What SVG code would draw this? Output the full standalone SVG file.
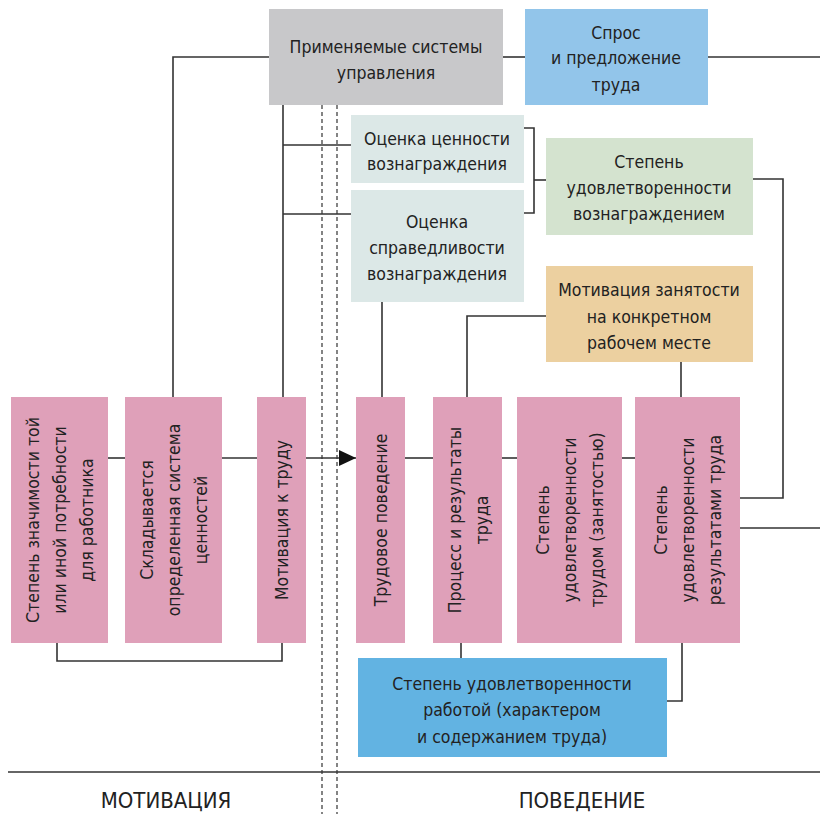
<svg xmlns="http://www.w3.org/2000/svg" width="820" height="814" viewBox="0 0 820 814">
<style>
text{font-family:"DejaVu Sans Condensed","Liberation Sans",sans-serif;font-size:17.5px;fill:#222;text-anchor:middle}
.ln{fill:none;stroke:#333;stroke-width:1.6}
.dash{fill:none;stroke:#333;stroke-width:1.2;stroke-dasharray:4 3}
.pink{fill:#dfa0b9}
.cap{font-size:22px;fill:#222}
</style>
<defs>
<marker id="arr" markerWidth="17" markerHeight="16" refX="17" refY="8" orient="auto" markerUnits="userSpaceOnUse">
<path d="M0,0 L17,8 L0,16 z" fill="#111"/>
</marker>
</defs>
<rect width="820" height="814" fill="#fff"/>
<g id="connectors">
<line class="dash" x1="322" y1="105" x2="322" y2="814"/>
<line class="dash" x1="337" y1="105" x2="337" y2="814"/>
<polyline class="ln" points="269,57 173,57 173,397"/>
<line class="ln" x1="503" y1="57" x2="525" y2="57"/>
<line class="ln" x1="708" y1="57" x2="820" y2="57"/>
<line class="ln" x1="283" y1="105" x2="283" y2="397"/>
<line class="ln" x1="283" y1="145" x2="351" y2="145"/>
<line class="ln" x1="283" y1="214" x2="351" y2="214"/>
<polyline class="ln" points="524,128 534,128 534,213 524,213"/>
<line class="ln" x1="534" y1="180" x2="546" y2="180"/>
<polyline class="ln" points="753,179 783,179 783,498 740,498"/>
<polyline class="ln" points="546,316 467,316 467,397"/>
<line class="ln" x1="681" y1="362" x2="681" y2="397"/>
<line class="ln" x1="382" y1="302" x2="382" y2="397"/>
<line class="ln" x1="108" y1="458" x2="125" y2="458"/>
<line class="ln" x1="222" y1="458" x2="257" y2="458"/>
<line class="ln" x1="306" y1="458" x2="356" y2="458" marker-end="url(#arr)"/>
<line class="ln" x1="405" y1="458" x2="433" y2="458"/>
<line class="ln" x1="502" y1="458" x2="517" y2="458"/>
<line class="ln" x1="622" y1="458" x2="635" y2="458"/>
<line class="ln" x1="740" y1="528" x2="820" y2="528"/>
<polyline class="ln" points="57,643 57,661 282,661 282,643"/>
<line class="ln" x1="461" y1="643" x2="461" y2="658"/>
<polyline class="ln" points="682,643 682,701 667,701"/>
<line class="ln" x1="8" y1="772" x2="820" y2="772"/>
</g>
<g id="n-gray"><rect x="269" y="9" width="234" height="96" fill="#c8c8ca"/>
<text x="386" y="53">Применяемые системы</text><text x="386" y="79">управления</text></g>
<g id="n-spros"><rect x="525" y="9" width="183" height="96" fill="#92c5ea"/>
<text x="616" y="39">Спрос</text><text x="616" y="64">и предложение</text><text x="616" y="91">труда</text></g>
<g id="n-ocenka1"><rect x="351" y="115" width="173" height="68" fill="#dce8e7"/>
<text x="437" y="145">Оценка ценности</text><text x="437" y="170">вознаграждения</text></g>
<g id="n-ocenka2"><rect x="351" y="190" width="173" height="112" fill="#dce8e7"/>
<text x="437" y="228">Оценка</text><text x="437" y="254">справедливости</text><text x="437" y="280">вознаграждения</text></g>
<g id="n-green"><rect x="546" y="138" width="207" height="97" fill="#d4e3cf"/>
<text x="649" y="168">Степень</text><text x="649" y="194">удовлетворенности</text><text x="649" y="220">вознаграждением</text></g>
<g id="n-orange"><rect x="546" y="266" width="207" height="96" fill="#ecd0a0"/>
<text x="649" y="296">Мотивация занятости</text><text x="649" y="323">на конкретном</text><text x="649" y="349">рабочем месте</text></g>
<g id="n-p1"><rect class="pink" x="11" y="397" width="97" height="246"/>
<g transform="translate(59.5,520) rotate(-90)"><text y="-21">Степень значимости той</text><text y="6">или иной потребности</text><text y="33">для работника</text></g></g>
<g id="n-p2"><rect class="pink" x="125" y="397" width="97" height="246"/>
<g transform="translate(173.5,520) rotate(-90)"><text y="-21">Складывается</text><text y="6">определенная система</text><text y="33">ценностей</text></g></g>
<g id="n-p3"><rect class="pink" x="257" y="397" width="49" height="246"/>
<g transform="translate(281.5,520) rotate(-90)"><text y="6">Мотивация к труду</text></g></g>
<g id="n-p4"><rect class="pink" x="356" y="397" width="49" height="246"/>
<g transform="translate(380.5,520) rotate(-90)"><text y="6">Трудовое поведение</text></g></g>
<g id="n-p5"><rect class="pink" x="433" y="397" width="69" height="246"/>
<g transform="translate(467.5,520) rotate(-90)"><text y="-7">Процесс и результаты</text><text y="20">труда</text></g></g>
<g id="n-p6"><rect class="pink" x="517" y="397" width="105" height="246"/>
<g transform="translate(569.5,520) rotate(-90)"><text y="-21">Степень</text><text y="6">удовлетворенности</text><text y="33">трудом (занятостью)</text></g></g>
<g id="n-p7"><rect class="pink" x="635" y="397" width="105" height="246"/>
<g transform="translate(687.5,520) rotate(-90)"><text y="-21">Степень</text><text y="6">удовлетворенности</text><text y="33">результатами труда</text></g></g>
<g id="n-blue2"><rect x="358" y="658" width="309" height="99" fill="#62b3e2"/>
<text x="512" y="690">Степень удовлетворенности</text><text x="512" y="716">работой (характером</text><text x="512" y="743">и содержанием труда)</text></g>
<g id="labels"><text class="cap" x="166" y="808">МОТИВАЦИЯ</text><text class="cap" x="582" y="808">ПОВЕДЕНИЕ</text></g>
</svg>
